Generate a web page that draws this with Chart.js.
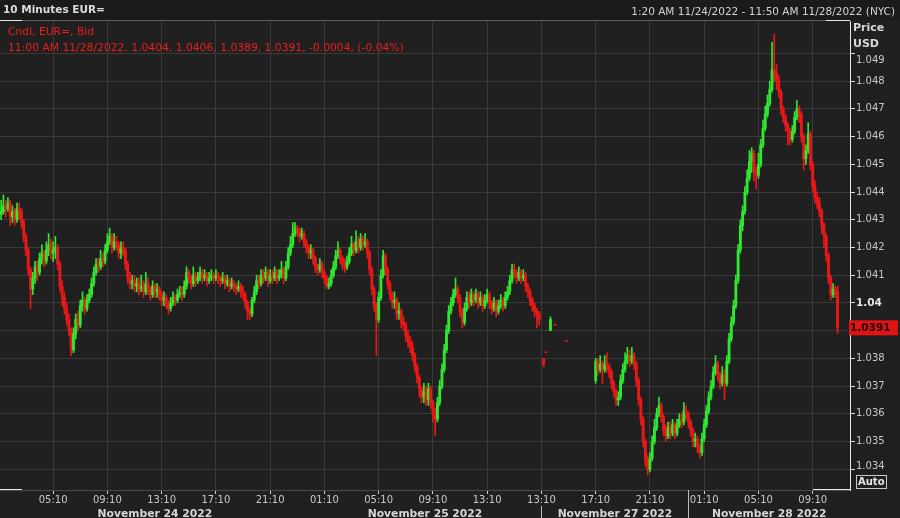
<!DOCTYPE html>
<html><head><meta charset="utf-8">
<script src="https://cdn.jsdelivr.net/npm/chart.js@4.4.1/dist/chart.umd.min.js"></script>
<style>html,body{margin:0;padding:0;background:#202020;overflow:hidden}canvas{display:block}</style>
</head><body>
<canvas id="c" width="900" height="518"></canvas>
<script>
// ---------- text ----------
const titleText = '10 Minutes EUR=';
const rangeText = '1:20 AM 11/24/2022 - 11:50 AM 11/28/2022 (NYC)';
const legendLine1 = 'Cndl, EUR=, Bid';
const legendLine2 = '11:00 AM 11/28/2022, 1.0404, 1.0406, 1.0389, 1.0391, -0.0004, (-0.04%)';
const dayNames = ['November 24 2022', 'November 25 2022', 'November 27 2022', 'November 28 2022'];
const lastPrice = 1.0391;
const lastPriceLabel = '1.0391';

// ---------- time slots (10-minute categories, weekend gap removed) ----------
const sessions = [
  { day: 0, startMin: 80, endMin: 2460 },   // Nov 24 01:20 -> Nov 25 17:00
  { day: 2, startMin: 790, endMin: 2150 }   // Nov 27 13:10 -> Nov 28 11:50
];
const categories = [];
const slotDay = [];
function pad(n) { return (n < 10 ? '0' : '') + n; }
sessions.forEach(s => {
  for (let m = s.startMin; m <= s.endMin; m += 10) {
    categories.push(pad(Math.floor(m / 60) % 24) + ':' + pad(m % 60));
    slotDay.push(s.day + Math.floor(m / 1440));
  }
});

// ---------- y ticks ----------
const yTicks = [1.034,1.035,1.036,1.037,1.038,1.039,1.040,1.041,1.042,1.043,1.044,1.045,1.046,1.047,1.048,1.049];
const yTickLabels = ['1.034','1.035','1.036','1.037','1.038','1.039','1.04','1.041','1.042','1.043','1.044','1.045','1.046','1.047','1.048','1.049'];

// ---------- OHLC series ----------
const opens = [1.0432,1.0433,1.0435,1.0434,1.0436,1.0431,1.0433,1.0430,1.0434,1.0433,
1.0429,1.0424,1.0419,1.0412,1.0405,1.0409,1.0413,1.0411,1.0416,1.0418,
1.0415,1.0419,1.0421,1.0418,1.0419,1.0420,1.0414,1.0406,1.0402,1.0398,
1.0394,1.0390,1.0383,1.0389,1.0394,1.0392,1.0399,1.0401,1.0398,1.0401,
1.0403,1.0407,1.0411,1.0414,1.0413,1.0416,1.0415,1.0419,1.0422,1.0424,
1.0420,1.0422,1.0421,1.0418,1.0420,1.0419,1.0414,1.0409,1.0407,1.0408,
1.0406,1.0407,1.0405,1.0406,1.0404,1.0407,1.0405,1.0403,1.0406,1.0404,
1.0405,1.0403,1.0401,1.0402,1.0400,1.0398,1.0400,1.0402,1.0401,1.0403,
1.0404,1.0403,1.0406,1.0411,1.0409,1.0407,1.0410,1.0408,1.0409,1.0411,
1.0409,1.0410,1.0408,1.0409,1.0410,1.0409,1.0410,1.0409,1.0408,1.0409,
1.0407,1.0408,1.0406,1.0407,1.0406,1.0405,1.0406,1.0404,1.0403,1.0400,
1.0397,1.0396,1.0401,1.0404,1.0408,1.0407,1.0410,1.0409,1.0411,1.0408,
1.0410,1.0409,1.0411,1.0409,1.0410,1.0412,1.0409,1.0413,1.0418,1.0421,
1.0425,1.0427,1.0426,1.0424,1.0425,1.0422,1.0420,1.0418,1.0419,1.0416,
1.0413,1.0412,1.0414,1.0411,1.0409,1.0406,1.0407,1.0410,1.0413,1.0417,
1.0419,1.0416,1.0414,1.0413,1.0415,1.0418,1.0421,1.0419,1.0422,1.0420,
1.0423,1.0421,1.0422,1.0418,1.0412,1.0405,1.0399,1.0394,1.0402,1.0410,
1.0417,1.0412,1.0407,1.0403,1.0400,1.0401,1.0396,1.0397,1.0393,1.0392,
1.0388,1.0386,1.0384,1.0381,1.0377,1.0373,1.0369,1.0366,1.0368,1.0365,
1.0369,1.0364,1.0360,1.0358,1.0364,1.0370,1.0376,1.0383,1.0390,1.0397,
1.0400,1.0403,1.0405,1.0402,1.0397,1.0393,1.0398,1.0402,1.0400,1.0403,
1.0401,1.0403,1.0400,1.0402,1.0399,1.0401,1.0403,1.0400,1.0398,1.0400,
1.0397,1.0399,1.0401,1.0399,1.0402,1.0404,1.0408,1.0412,1.0411,1.0409,
1.0411,1.0409,1.0410,1.0406,1.0404,1.0401,1.0399,1.0397,1.0396,null,
1.0380,1.0382,null,1.0390,null,1.0392,null,null,null,null,
1.0386,null,null,null,null,null,null,null,null,null,
null,null,null,1.0372,1.0379,1.0376,1.0378,1.0376,1.0378,1.0377,
1.0375,1.0371,1.0368,1.0365,1.0366,1.0372,1.0376,1.0379,1.0381,1.0379,
1.0381,1.0378,1.0372,1.0365,1.0358,1.0350,1.0343,1.0340,1.0344,1.0350,
1.0355,1.0360,1.0363,1.0359,1.0354,1.0352,1.0355,1.0353,1.0356,1.0353,
1.0356,1.0358,1.0357,1.0361,1.0360,1.0357,1.0354,1.0350,1.0351,1.0348,
1.0346,1.0351,1.0356,1.0361,1.0366,1.0370,1.0375,1.0378,1.0374,1.0371,
1.0374,1.0371,1.0379,1.0387,1.0393,1.0399,1.0408,1.0419,1.0428,1.0433,
1.0440,1.0445,1.0451,1.0454,1.0448,1.0446,1.0450,1.0457,1.0463,1.0468,
1.0472,1.0477,1.0484,1.0483,1.0480,1.0476,1.0470,1.0467,1.0464,1.0462,
1.0459,1.0462,1.0467,1.0470,1.0468,1.0460,1.0452,1.0455,1.0461,1.0450,
1.0442,1.0438,1.0436,1.0433,1.0428,1.0424,1.0417,1.0409,1.0403,1.0405,
1.0404,null,null,null,null,null];

const highs = [1.0437,1.0439,1.0437,1.0438,1.0437,1.0435,1.0434,1.0436,1.0436,1.0434,
1.0430,1.0425,1.0420,1.0413,1.0411,1.0415,1.0415,1.0418,1.0421,1.0419,
1.0422,1.0425,1.0423,1.0422,1.0424,1.0421,1.0415,1.0408,1.0404,1.0400,
1.0396,1.0391,1.0391,1.0396,1.0397,1.0401,1.0404,1.0402,1.0403,1.0405,
1.0409,1.0413,1.0416,1.0416,1.0419,1.0418,1.0421,1.0425,1.0427,1.0425,
1.0425,1.0424,1.0422,1.0422,1.0422,1.0420,1.0415,1.0411,1.0410,1.0410,
1.0409,1.0409,1.0410,1.0408,1.0411,1.0409,1.0406,1.0408,1.0407,1.0407,
1.0406,1.0404,1.0404,1.0403,1.0401,1.0402,1.0404,1.0403,1.0405,1.0406,
1.0406,1.0408,1.0413,1.0412,1.0410,1.0413,1.0411,1.0411,1.0413,1.0412,
1.0412,1.0411,1.0411,1.0412,1.0411,1.0412,1.0411,1.0410,1.0411,1.0410,
1.0410,1.0409,1.0409,1.0408,1.0407,1.0408,1.0407,1.0406,1.0404,1.0401,
1.0398,1.0402,1.0406,1.0410,1.0410,1.0412,1.0412,1.0413,1.0412,1.0412,
1.0412,1.0413,1.0412,1.0412,1.0415,1.0413,1.0415,1.0420,1.0424,1.0429,
1.0429,1.0428,1.0427,1.0427,1.0426,1.0423,1.0421,1.0421,1.0420,1.0417,
1.0414,1.0416,1.0415,1.0412,1.0410,1.0409,1.0412,1.0415,1.0419,1.0422,
1.0420,1.0417,1.0416,1.0417,1.0420,1.0424,1.0422,1.0426,1.0424,1.0425,
1.0424,1.0425,1.0423,1.0419,1.0413,1.0406,1.0400,1.0404,1.0412,1.0419,
1.0418,1.0413,1.0408,1.0404,1.0404,1.0402,1.0400,1.0398,1.0395,1.0393,
1.0390,1.0388,1.0386,1.0382,1.0378,1.0374,1.0370,1.0371,1.0370,1.0371,
1.0370,1.0365,1.0362,1.0366,1.0372,1.0378,1.0385,1.0392,1.0399,1.0402,
1.0405,1.0409,1.0406,1.0403,1.0398,1.0400,1.0404,1.0404,1.0405,1.0404,
1.0405,1.0404,1.0404,1.0403,1.0403,1.0405,1.0404,1.0401,1.0402,1.0401,
1.0401,1.0403,1.0402,1.0404,1.0406,1.0410,1.0414,1.0414,1.0412,1.0413,
1.0412,1.0412,1.0411,1.0407,1.0405,1.0402,1.0400,1.0398,1.0397,null,
1.0380,1.0382,null,1.0395,null,1.0392,null,null,null,null,
1.0386,null,null,null,null,null,null,null,null,null,
null,null,null,1.0380,1.0380,1.0381,1.0379,1.0381,1.0382,1.0378,
1.0376,1.0372,1.0369,1.0368,1.0374,1.0378,1.0382,1.0384,1.0383,1.0384,
1.0382,1.0379,1.0373,1.0366,1.0359,1.0351,1.0345,1.0346,1.0352,1.0358,
1.0362,1.0366,1.0364,1.0360,1.0356,1.0357,1.0357,1.0358,1.0357,1.0358,
1.0360,1.0360,1.0364,1.0363,1.0361,1.0358,1.0355,1.0353,1.0352,1.0349,
1.0353,1.0358,1.0363,1.0368,1.0372,1.0377,1.0381,1.0379,1.0375,1.0377,
1.0376,1.0381,1.0389,1.0395,1.0401,1.0410,1.0421,1.0430,1.0435,1.0442,
1.0448,1.0455,1.0456,1.0455,1.0449,1.0454,1.0459,1.0466,1.0471,1.0475,
1.0480,1.0494,1.0497,1.0486,1.0482,1.0477,1.0471,1.0468,1.0465,1.0463,
1.0464,1.0469,1.0473,1.0471,1.0469,1.0461,1.0457,1.0465,1.0462,1.0451,
1.0444,1.0440,1.0438,1.0434,1.0429,1.0425,1.0418,1.0410,1.0407,1.0406,
1.0406,null,null,null,null,null];

const lows = [1.0430,1.0432,1.0431,1.0433,1.0428,1.0429,1.0428,1.0429,1.0430,1.0427,
1.0422,1.0417,1.0410,1.0398,1.0403,1.0407,1.0408,1.0410,1.0414,1.0413,
1.0414,1.0417,1.0416,1.0415,1.0416,1.0412,1.0404,1.0399,1.0396,1.0392,
1.0388,1.0381,1.0382,1.0387,1.0390,1.0391,1.0397,1.0396,1.0397,1.0400,
1.0402,1.0406,1.0410,1.0411,1.0412,1.0413,1.0414,1.0418,1.0421,1.0418,
1.0419,1.0419,1.0416,1.0416,1.0417,1.0412,1.0407,1.0405,1.0405,1.0404,
1.0404,1.0403,1.0404,1.0402,1.0403,1.0403,1.0401,1.0402,1.0402,1.0402,
1.0401,1.0399,1.0399,1.0398,1.0396,1.0397,1.0399,1.0399,1.0400,1.0402,
1.0401,1.0402,1.0405,1.0407,1.0405,1.0406,1.0406,1.0407,1.0408,1.0407,
1.0408,1.0406,1.0407,1.0408,1.0407,1.0408,1.0407,1.0406,1.0407,1.0405,
1.0406,1.0404,1.0405,1.0404,1.0403,1.0404,1.0402,1.0401,1.0398,1.0394,
1.0394,1.0395,1.0400,1.0403,1.0405,1.0406,1.0407,1.0408,1.0406,1.0407,
1.0407,1.0408,1.0407,1.0408,1.0409,1.0407,1.0408,1.0412,1.0417,1.0420,
1.0424,1.0424,1.0422,1.0423,1.0420,1.0418,1.0416,1.0416,1.0414,1.0411,
1.0410,1.0411,1.0409,1.0407,1.0405,1.0405,1.0406,1.0409,1.0412,1.0416,
1.0414,1.0412,1.0411,1.0412,1.0414,1.0417,1.0417,1.0418,1.0418,1.0419,
1.0419,1.0420,1.0416,1.0410,1.0403,1.0397,1.0381,1.0393,1.0401,1.0409,
1.0410,1.0405,1.0401,1.0398,1.0398,1.0394,1.0394,1.0391,1.0390,1.0386,
1.0384,1.0382,1.0379,1.0375,1.0371,1.0366,1.0364,1.0364,1.0363,1.0363,
1.0362,1.0357,1.0352,1.0357,1.0363,1.0369,1.0375,1.0382,1.0389,1.0396,
1.0399,1.0402,1.0400,1.0395,1.0391,1.0392,1.0397,1.0398,1.0399,1.0399,
1.0400,1.0398,1.0399,1.0397,1.0398,1.0400,1.0398,1.0396,1.0397,1.0395,
1.0396,1.0398,1.0397,1.0398,1.0401,1.0403,1.0407,1.0409,1.0407,1.0408,
1.0407,1.0408,1.0404,1.0402,1.0399,1.0397,1.0395,1.0391,1.0392,null,
1.0377,1.0382,null,1.0390,null,1.0392,null,null,null,null,
1.0386,null,null,null,null,null,null,null,null,null,
null,null,null,1.0371,1.0374,1.0375,1.0371,1.0375,1.0375,1.0373,
1.0369,1.0366,1.0363,1.0363,1.0365,1.0371,1.0375,1.0378,1.0377,1.0378,
1.0376,1.0370,1.0363,1.0356,1.0348,1.0341,1.0338,1.0339,1.0343,1.0349,
1.0354,1.0359,1.0357,1.0352,1.0350,1.0351,1.0351,1.0352,1.0351,1.0352,
1.0355,1.0355,1.0356,1.0358,1.0355,1.0352,1.0348,1.0348,1.0346,1.0344,
1.0345,1.0350,1.0355,1.0360,1.0365,1.0369,1.0374,1.0372,1.0369,1.0370,
1.0365,1.0370,1.0378,1.0386,1.0392,1.0398,1.0407,1.0418,1.0426,1.0432,
1.0439,1.0444,1.0447,1.0444,1.0441,1.0445,1.0449,1.0456,1.0462,1.0467,
1.0471,1.0476,1.0480,1.0477,1.0474,1.0468,1.0465,1.0462,1.0457,1.0457,
1.0458,1.0461,1.0466,1.0465,1.0458,1.0448,1.0450,1.0454,1.0448,1.0440,
1.0436,1.0434,1.0431,1.0425,1.0420,1.0415,1.0407,1.0401,1.0402,1.0402,
1.0389,null,null,null,null,null];

const closes = [1.0433,1.0435,1.0434,1.0436,1.0431,1.0433,1.0430,1.0434,1.0433,1.0429,
1.0424,1.0419,1.0412,1.0405,1.0409,1.0413,1.0411,1.0416,1.0418,1.0415,
1.0419,1.0421,1.0418,1.0419,1.0420,1.0414,1.0406,1.0402,1.0398,1.0394,
1.0390,1.0383,1.0389,1.0394,1.0392,1.0399,1.0401,1.0398,1.0401,1.0403,
1.0407,1.0411,1.0414,1.0413,1.0416,1.0415,1.0419,1.0422,1.0424,1.0420,
1.0422,1.0421,1.0418,1.0420,1.0419,1.0414,1.0409,1.0407,1.0408,1.0406,
1.0407,1.0405,1.0406,1.0404,1.0407,1.0405,1.0403,1.0406,1.0404,1.0405,
1.0403,1.0401,1.0402,1.0400,1.0398,1.0400,1.0402,1.0401,1.0403,1.0404,
1.0403,1.0406,1.0411,1.0409,1.0407,1.0410,1.0408,1.0409,1.0411,1.0409,
1.0410,1.0408,1.0409,1.0410,1.0409,1.0410,1.0409,1.0408,1.0409,1.0407,
1.0408,1.0406,1.0407,1.0406,1.0405,1.0406,1.0404,1.0403,1.0400,1.0397,
1.0396,1.0401,1.0404,1.0408,1.0407,1.0410,1.0409,1.0411,1.0408,1.0410,
1.0409,1.0411,1.0409,1.0410,1.0412,1.0409,1.0413,1.0418,1.0421,1.0425,
1.0427,1.0426,1.0424,1.0425,1.0422,1.0420,1.0418,1.0419,1.0416,1.0413,
1.0412,1.0414,1.0411,1.0409,1.0406,1.0407,1.0410,1.0413,1.0417,1.0419,
1.0416,1.0414,1.0413,1.0415,1.0418,1.0421,1.0419,1.0422,1.0420,1.0423,
1.0421,1.0422,1.0418,1.0412,1.0405,1.0399,1.0394,1.0402,1.0410,1.0417,
1.0412,1.0407,1.0403,1.0400,1.0401,1.0396,1.0397,1.0393,1.0392,1.0388,
1.0386,1.0384,1.0381,1.0377,1.0373,1.0369,1.0366,1.0368,1.0365,1.0369,
1.0364,1.0360,1.0358,1.0364,1.0370,1.0376,1.0383,1.0390,1.0397,1.0400,
1.0403,1.0405,1.0402,1.0397,1.0393,1.0398,1.0402,1.0400,1.0403,1.0401,
1.0403,1.0400,1.0402,1.0399,1.0401,1.0403,1.0400,1.0398,1.0400,1.0397,
1.0399,1.0401,1.0399,1.0402,1.0404,1.0408,1.0412,1.0411,1.0409,1.0411,
1.0409,1.0410,1.0406,1.0404,1.0401,1.0399,1.0397,1.0396,1.0394,null,
1.0378,1.0382,null,1.0394,null,1.0392,null,null,null,null,
1.0386,null,null,null,null,null,null,null,null,null,
null,null,null,1.0379,1.0376,1.0378,1.0376,1.0378,1.0377,1.0375,
1.0371,1.0368,1.0365,1.0366,1.0372,1.0376,1.0379,1.0381,1.0379,1.0381,
1.0378,1.0372,1.0365,1.0358,1.0350,1.0343,1.0340,1.0344,1.0350,1.0355,
1.0360,1.0363,1.0359,1.0354,1.0352,1.0355,1.0353,1.0356,1.0353,1.0356,
1.0358,1.0357,1.0361,1.0360,1.0357,1.0354,1.0350,1.0351,1.0348,1.0346,
1.0351,1.0356,1.0361,1.0366,1.0370,1.0375,1.0378,1.0374,1.0371,1.0374,
1.0371,1.0379,1.0387,1.0393,1.0399,1.0408,1.0419,1.0428,1.0433,1.0440,
1.0445,1.0451,1.0454,1.0448,1.0446,1.0450,1.0457,1.0463,1.0468,1.0472,
1.0477,1.0484,1.0483,1.0480,1.0476,1.0470,1.0467,1.0464,1.0462,1.0459,
1.0462,1.0467,1.0470,1.0468,1.0460,1.0452,1.0455,1.0461,1.0450,1.0442,
1.0438,1.0436,1.0433,1.0428,1.0424,1.0417,1.0409,1.0403,1.0405,1.0404,
1.0391,null,null,null,null,null];

// ---------- styles ----------
const UP = '#2fe82f', DOWN = '#ec1818';
const FONT = '"DejaVu Sans", Verdana, sans-serif';

const candleColor = closes.map((c, i) => (c != null && c > opens[i]) ? UP : DOWN);
const wickData = highs.map((h, i) => h == null ? null : [lows[i], h]);
const bodyData = closes.map((c, i) => c == null ? null : [Math.min(opens[i], c), Math.max(opens[i], c)]);

const decor = {
  id: 'decor',
  beforeDraw(chart) {
    const c = chart.ctx;
    c.save();
    c.fillStyle = '#202020'; c.fillRect(0, 0, chart.width, chart.height);
    c.fillStyle = '#1b1b1b'; c.fillRect(0, 0, chart.width, 20);
    c.restore();
  },
  afterDraw(chart) {
    const c = chart.ctx, a = chart.chartArea, ys = chart.scales.y, xs = chart.scales.x;
    c.save();
    // frame
    c.fillStyle = '#5c5c5c'; c.fillRect(0, 20, a.right, 1);
    c.fillStyle = '#e8e8e8';
    c.fillRect(0, 20, 22, 1); c.fillRect(826, 20, a.right - 826, 1);
    c.fillRect(0, a.bottom - 1, 22, 1); c.fillRect(813, a.bottom - 1, a.right - 813, 1);
    // header
    c.textBaseline = 'middle';
    c.textAlign = 'left';
    c.font = 'bold 10.5px ' + FONT; c.fillStyle = '#dcdcdc';
    c.fillText(titleText, 3, 10);
    c.textAlign = 'right'; c.font = '10.5px ' + FONT; c.fillStyle = '#d2d2d2';
    c.fillText(rangeText, 895, 12);
    // legend
    c.textAlign = 'left'; c.font = '10.75px ' + FONT; c.fillStyle = '#ee1c1c';
    c.fillText(legendLine1, 8, 32.5);
    c.fillText(legendLine2, 8, 48);
    // axis header
    c.font = 'bold 11px ' + FONT; c.fillStyle = '#d8d8d8';
    c.fillText('Price', 853, 28);
    c.fillText('USD', 853, 44);
    // end tick labels (nudged like the reference)
    c.font = '10px ' + FONT; c.fillStyle = '#c8c8c8';
    c.fillText(yTickLabels[yTicks.length - 1], 856, ys.getPixelForValue(yTicks[yTicks.length - 1]) + 7);
    c.fillText(yTickLabels[0], 856, ys.getPixelForValue(yTicks[0]) - 3);
    // last price box
    const py = ys.getPixelForValue(lastPrice);
    c.fillStyle = '#e41212'; c.fillRect(849, py - 7.5, 49, 15);
    c.fillStyle = '#1a0303'; c.font = 'bold 10.5px ' + FONT;
    c.fillText(lastPriceLabel, 850, py + 0.5);
    // Auto box
    c.strokeStyle = '#c8c8c8'; c.lineWidth = 1;
    c.strokeRect(856.5, 475.5, 30, 13);
    c.fillStyle = '#e6e6e6'; c.font = 'bold 10px ' + FONT;
    c.fillText('Auto', 858, 482.5);
    // day labels and separators (separators only after the first two sessions' boundary)
    const starts = [];
    slotDay.forEach((d, i) => { if (i === 0 || d !== slotDay[i - 1]) starts.push(i); });
    const edges = starts.map(i => xs.getPixelForValue(i));
    edges.push(a.right);
    c.font = 'bold 10.75px ' + FONT; c.textAlign = 'center'; c.textBaseline = 'top';
    for (let k = 0; k < starts.length; k++) {
      c.fillStyle = '#d6d6d6';
      c.fillText(dayNames[k], (edges[k] + edges[k + 1]) / 2, 509);
      if (k >= 2) {
        c.fillStyle = '#bdbdbd';
        const x0 = Math.round(edges[k]);
        c.fillRect(x0, k === 3 ? 490 : 506, 1, k === 3 ? 28 : 12);
      }
    }
    c.restore();
  }
};

new Chart(document.getElementById('c'), {
  type: 'bar',
  data: {
    labels: categories,
    datasets: [
      { label: 'wick', data: wickData, backgroundColor: candleColor, barThickness: 1, grouped: false, order: 2, borderWidth: 0 },
      { label: 'body', data: bodyData, backgroundColor: candleColor, barThickness: 2.2, grouped: false, order: 1, borderWidth: 0, minBarLength: 1 }
    ]
  },
  options: {
    responsive: false,
    animation: false,
    devicePixelRatio: 1,
    layout: { padding: { top: 21, left: 0, right: 0, bottom: 0 } },
    plugins: { legend: { display: false }, tooltip: { enabled: false } },
    scales: {
      x: {
        type: 'category',
        offset: true,
        afterBuildTicks: s => { s.ticks = s.ticks.filter(t => t.value % 24 === 23); },
        afterFit: s => { s.height = 28; },
        ticks: { autoSkip: false, maxRotation: 0, minRotation: 0, padding: 0, color: '#c8c8c8', font: { family: FONT, size: 10 } },
        grid: { offset: false, color: '#3a3a3a', tickColor: '#d0d0d0', tickLength: 4, drawTicks: true },
        border: { color: '#4a4a4a' }
      },
      y: {
        position: 'right',
        min: 1.03325,
        max: 1.05017,
        afterBuildTicks: s => { s.ticks = yTicks.map(v => ({ value: v })); },
        afterFit: s => { s.width = 50; },
        ticks: {
          padding: 1,
          color: ctx => (ctx.tick && ctx.tick.value === 1.040) ? '#e4e4e4' : '#c8c8c8',
          font: ctx => (ctx.tick && ctx.tick.value === 1.040) ? { family: FONT, size: 10.5, weight: 'bold' } : { family: FONT, size: 10 },
          callback: (v, i) => (i === 0 || i === yTicks.length - 1 || v === 1.039) ? '' : yTickLabels[i]
        },
        grid: { color: '#3a3a3a', tickColor: '#d8d8d8', tickLength: 5, drawTicks: true },
        border: { color: '#e8e8e8' }
      }
    }
  },
  plugins: [decor]
});
</script>
</body></html>
